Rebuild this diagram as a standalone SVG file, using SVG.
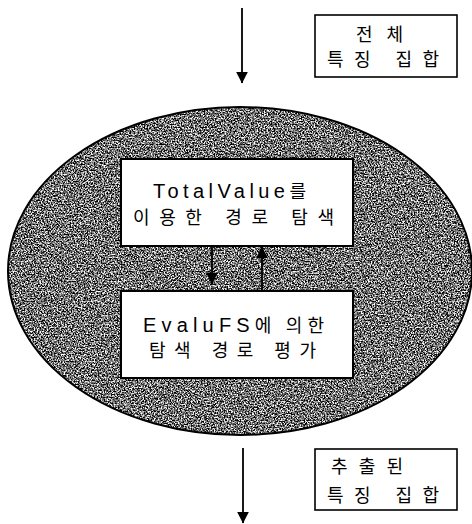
<svg xmlns="http://www.w3.org/2000/svg" width="472" height="524" viewBox="0 0 472 524">
  <style>
    .box { fill: #fff; stroke: #000; stroke-width: 2; }
    .side { fill: #fff; stroke: #000; stroke-width: 1.6; }
    .kr { font-family: "Noto Sans CJK KR", "Liberation Sans", sans-serif; font-size: 18px; fill: #000; }
    .lat { font-family: "Liberation Sans", "Noto Sans CJK KR", sans-serif; font-size: 20px; }
    .wire { stroke: #000; stroke-width: 1.8; fill: none; }
  </style>
  <defs>
    <marker id="head" viewBox="0 0 10 10" refX="9.5" refY="5" markerWidth="12" markerHeight="13" markerUnits="userSpaceOnUse" orient="auto">
      <path d="M0,0 L10,5 L0,10 z" fill="#000"/>
    </marker>
    <!-- mid-grey black/white speckle used as the loop region's fill -->
    <filter id="grain" x="0" y="0" width="100%" height="100%" color-interpolation-filters="sRGB">
      <feTurbulence type="fractalNoise" baseFrequency="0.7" numOctaves="3" seed="7" result="n"/>
      <feColorMatrix in="n" type="matrix" values="2.8 0 0 0 -0.96  2.8 0 0 0 -0.96  2.8 0 0 0 -0.96  0 0 0 0 1" result="g"/>
      <feComposite in="g" in2="SourceGraphic" operator="in"/>
    </filter>
  </defs>

  <g id="loop-region">
    <ellipse cx="240" cy="271" rx="232" ry="164" fill="#808080" filter="url(#grain)"/>
    <ellipse cx="240" cy="271" rx="232" ry="164" fill="none" stroke="#000" stroke-width="2"/>
  </g>

  <g id="connectors">
    <line class="wire" x1="242" y1="8" x2="242" y2="83" marker-end="url(#head)"/>
    <line class="wire" x1="212" y1="246" x2="212" y2="284" marker-end="url(#head)"/>
    <line class="wire" x1="262" y1="291" x2="262" y2="247" marker-end="url(#head)"/>
    <line class="wire" x1="243" y1="448" x2="243" y2="523" marker-end="url(#head)"/>
  </g>

  <g id="input-set">
    <rect class="side" x="315" y="15" width="142" height="62"/>
    <text class="kr" x="356" y="41" textLength="47" lengthAdjust="spacing">전 체</text>
    <text class="kr" x="327" y="66" textLength="112" lengthAdjust="spacing">특징 집합</text>
  </g>

  <g id="path-search">
    <rect class="box" x="121" y="159" width="232" height="87"/>
    <text class="kr" x="153" y="198" textLength="153" lengthAdjust="spacing"><tspan class="lat">TotalValue</tspan>를</text>
    <text class="kr" x="133" y="224" textLength="201" lengthAdjust="spacing">이용한 경로 탐색</text>
  </g>

  <g id="path-eval">
    <rect class="box" x="121" y="291" width="232" height="87"/>
    <text class="kr" x="143" y="332" textLength="181" lengthAdjust="spacing"><tspan class="lat">EvaluFS</tspan>에 의한</text>
    <text class="kr" x="149" y="357" textLength="167" lengthAdjust="spacing">탐색 경로 평가</text>
  </g>

  <g id="output-set">
    <rect class="side" x="315" y="449" width="142" height="61"/>
    <text class="kr" x="331" y="473" textLength="72" lengthAdjust="spacing">추출된</text>
    <text class="kr" x="327" y="502" textLength="112" lengthAdjust="spacing">특징 집합</text>
  </g>
</svg>
